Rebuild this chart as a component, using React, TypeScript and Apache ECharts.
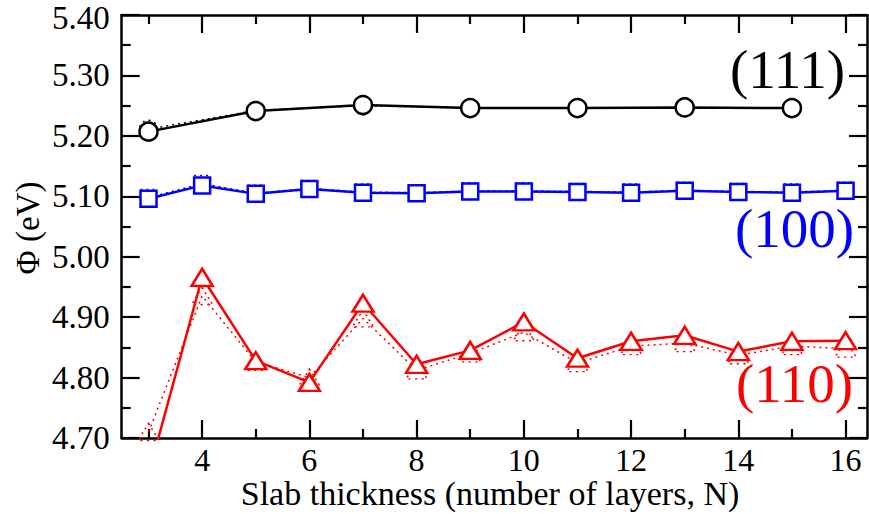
import React, { useEffect, useRef } from "react";
import * as echarts from "echarts";

const xs111 = [3, 5, 7, 9, 11, 13, 15];
const v111 = [5.207, 5.241, 5.251, 5.246, 5.246, 5.247, 5.246];
const v111dot = [5.211, 5.242, 5.25, 5.246, 5.246, 5.247, 5.246];

const xsAll = [3, 4, 5, 6, 7, 8, 9, 10, 11, 12, 13, 14, 15, 16];
const v100 = [5.096, 5.118, 5.104, 5.112, 5.106, 5.105, 5.108, 5.108, 5.107, 5.106, 5.109, 5.107, 5.106, 5.109];
const v100dot = [5.098, 5.121, 5.105, 5.113, 5.107, 5.106, 5.109, 5.109, 5.108, 5.107, 5.11, 5.108, 5.107, 5.11];
const v110 = [4.64, 4.966, 4.828, 4.792, 4.923, 4.822, 4.845, 4.892, 4.832, 4.86, 4.87, 4.843, 4.86, 4.861];
const v110dot = [4.71, 4.935, 4.826, 4.8, 4.898, 4.812, 4.84, 4.875, 4.824, 4.852, 4.857, 4.837, 4.852, 4.848];

const xMajor = [4, 6, 8, 10, 12, 14, 16];
const xMinor = [3, 5, 7, 9, 11, 13, 15];
const yMajor = [4.7, 4.8, 4.9, 5.0, 5.1, 5.2, 5.3, 5.4];
const yMinor = [4.75, 4.85, 4.95, 5.05, 5.15, 5.25, 5.35];

const xTitle = "Slab thickness (number of layers, N)";
const yTitle = "Φ (eV)";

const labels = [
  { text: "(111)", color: "#000000", x: 730, y: 69 },
  { text: "(100)", color: "#0000ff", x: 735, y: 228 },
  { text: "(110)", color: "#ff0000", x: 736, y: 383 },
];

const FONT = "'Liberation Serif', 'Times New Roman', serif";

function zip(xs: number[], ys: number[]) {
  return xs.map((x, i) => [x, ys[i]]);
}

export default function App() {
  const ref = useRef<HTMLDivElement>(null);
  useEffect(() => {
    if (!ref.current) return;
    const chart = echarts.init(ref.current, null, { renderer: "svg" });
    const axisLine = { show: true, lineStyle: { color: "#000", width: 2.5 } };
    const majTick = (vals: number[]) => ({
      show: true, inside: true, length: 18, customValues: vals,
      lineStyle: { color: "#000", width: 2.2 },
    });
    const minTick = (vals: number[]) => ({
      show: true, inside: true, length: 9, customValues: vals,
      lineStyle: { color: "#000", width: 2.2 },
    });
    const xBase = { type: "value", min: 2.5, max: 16.4, splitLine: { show: false } };
    const yBase = { type: "value", min: 4.7, max: 5.4, splitLine: { show: false } };
    const yMax = yMajor[yMajor.length - 1];

    const solid = (name: string, data: number[][], color: string, symbol: string, size: any) => ({
      name, type: "line", data, xAxisIndex: 0, yAxisIndex: 0, clip: true,
      symbol, symbolSize: size, z: 3,
      lineStyle: { color, width: 2.5 },
      itemStyle: { color: "#fff", borderColor: color, borderWidth: 2.5 },
    });
    const dotted = (name: string, data: number[][], color: string, symbol: string, size: any) => ({
      name, type: "line", data, xAxisIndex: 0, yAxisIndex: 0, clip: true,
      symbol, symbolSize: size, z: 2,
      lineStyle: { color, width: 1.5, type: [2, 4] },
      itemStyle: { color: "rgba(0,0,0,0)", borderColor: color, borderWidth: 1.5, borderType: [2, 4] },
    });

    chart.setOption({
      animation: false,
      backgroundColor: "#fff",
      grid: { left: 121.7, right: 2, top: 15, bottom: 76, containLabel: false, outerBoundsMode: "none" },
      xAxis: [
        {
          ...xBase, position: "bottom", axisLine, axisTick: majTick(xMajor),
          axisLabel: { show: true, customValues: xMajor, margin: 9, fontFamily: FONT, fontSize: 32, lineHeight: 26, color: "#000" },
        },
        { ...xBase, position: "bottom", axisLine: { show: false }, axisTick: minTick(xMinor), axisLabel: { show: false } },
        { ...xBase, position: "top", axisLine, axisTick: majTick(xMajor), axisLabel: { show: false } },
        { ...xBase, position: "top", axisLine: { show: false }, axisTick: minTick(xMinor), axisLabel: { show: false } },
      ],
      yAxis: [
        {
          ...yBase, position: "left", axisLine, axisTick: majTick(yMajor),
          axisLabel: {
            show: true, customValues: yMajor, margin: 12, fontFamily: FONT, fontSize: 33, lineHeight: 24, color: "#000",
            formatter: (v: number) => (Math.abs(v - yMax) < 1e-6 ? `{t|${v.toFixed(2)}}` : v.toFixed(2)),
            rich: { t: { fontFamily: FONT, fontSize: 33, lineHeight: 24, color: "#000", padding: [6, 0, 0, 0] } },
          },
        },
        { ...yBase, position: "left", axisLine: { show: false }, axisTick: minTick(yMinor), axisLabel: { show: false } },
        { ...yBase, position: "right", axisLine, axisTick: majTick(yMajor), axisLabel: { show: false } },
        { ...yBase, position: "right", axisLine: { show: false }, axisTick: minTick(yMinor), axisLabel: { show: false } },
      ],
      series: [
        dotted("(111) dotted", zip(xs111, v111dot), "#000000", "circle", 18),
        dotted("(100) dotted", zip(xsAll, v100dot), "#0000ff", "rect", 16),
        dotted("(110) dotted", zip(xsAll, v110dot), "#ff0000", "triangle", [21, 17]),
        solid("(111)", zip(xs111, v111), "#000000", "circle", 18),
        solid("(100)", zip(xsAll, v100), "#0000ff", "rect", 16),
        solid("(110)", zip(xsAll, v110), "#ff0000", "triangle", [21, 17]),
      ],
      graphic: [
        ...labels.map((l) => ({
          type: "text", x: l.x, y: l.y, z: 10,
          style: { text: l.text, fill: l.color, font: `55px ${FONT}`, textAlign: "left", textVerticalAlign: "middle" },
        })),
        {
          type: "text", x: 490, y: 493, z: 10,
          style: { text: xTitle, fill: "#000", font: `34px ${FONT}`, lineHeight: 30, textAlign: "center", textVerticalAlign: "middle" },
        },
        {
          type: "text", x: 28, y: 228, rotation: Math.PI / 2, z: 10,
          style: { text: yTitle, fill: "#000", font: `33px ${FONT}`, textAlign: "center", textVerticalAlign: "middle" },
        },
      ],
    });
    return () => chart.dispose();
  }, []);
  return <div ref={ref} style={{ width: 869, height: 514, position: "absolute", left: 0, top: 0 }} />;
}
